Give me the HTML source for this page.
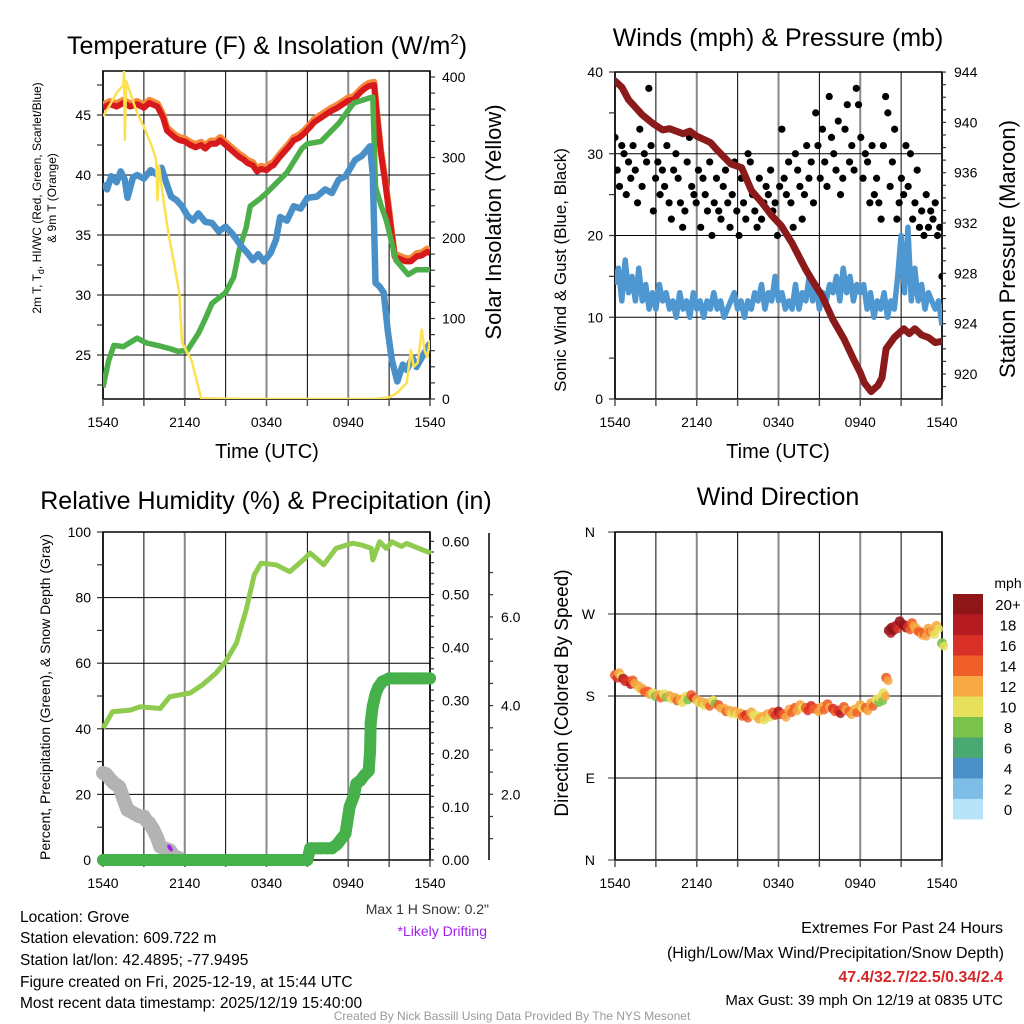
<!DOCTYPE html>
<html><head><meta charset="utf-8"><style>
html,body{margin:0;padding:0;background:#fff}
svg{display:block;font-family:"Liberation Sans",Arial,sans-serif}
</style></head><body>
<svg id="fig" width="1024" height="1024" viewBox="0 0 1024 1024" xmlns="http://www.w3.org/2000/svg">
<defs>
<clipPath id="c1"><rect x="103" y="71" width="327" height="328"/></clipPath>
<clipPath id="c2"><rect x="615" y="72" width="327" height="327"/></clipPath>
<clipPath id="c3"><rect x="96" y="526" width="340" height="342"/></clipPath>
<clipPath id="c4"><rect x="608" y="526" width="340" height="342"/></clipPath>
</defs>
<g id="g1"></g>
<g id="g2"></g>
<g id="g3"></g>
<g id="g4"></g>
<g font-size="25" text-anchor="middle" fill="#000">
<text x="267" y="54">Temperature (F) &amp; Insolation (W/m<tspan font-size="15" dy="-10">2</tspan><tspan dy="10">)</tspan></text>
<text x="778" y="46">Winds (mph) &amp; Pressure (mb)</text>
<text x="266" y="509">Relative Humidity (%) &amp; Precipitation (in)</text>
<text x="778" y="505">Wind Direction</text>
</g>
<g fill="#000">
<text x="267" y="458" font-size="20" text-anchor="middle">Time (UTC)</text>
<text x="778" y="458" font-size="20" text-anchor="middle">Time (UTC)</text>
<text transform="translate(41,198) rotate(-90)" font-size="12" text-anchor="middle">2m T, T<tspan font-size="9" dy="3">d</tspan><tspan dy="-3">, HI/WC (Red, Green, Scarlet/Blue)</tspan></text>
<text transform="translate(56,198) rotate(-90)" font-size="12" text-anchor="middle">&amp; 9m T (Orange)</text>
<text transform="translate(501,222) rotate(-90)" font-size="22" text-anchor="middle">Solar Insolation (Yellow)</text>
<text transform="translate(566,270) rotate(-90)" font-size="17" text-anchor="middle">Sonic Wind &amp; Gust (Blue, Black)</text>
<text transform="translate(1015,249) rotate(-90)" font-size="22" text-anchor="middle">Station Pressure (Maroon)</text>
<text transform="translate(50,697) rotate(-90)" font-size="14" text-anchor="middle">Percent, Precipitation (Green), &amp; Snow Depth (Gray)</text>
<text transform="translate(568,693) rotate(-90)" font-size="19" text-anchor="middle">Direction (Colored By Speed)</text>
</g>
<g font-size="15.5" fill="#000">
<text x="20" y="922">Location: Grove</text>
<text x="20" y="943">Station elevation: 609.722 m</text>
<text x="20" y="965">Station lat/lon: 42.4895; -77.9495</text>
<text x="20" y="987">Figure created on Fri, 2025-12-19, at 15:44 UTC</text>
<text x="20" y="1008">Most recent data timestamp: 2025/12/19 15:40:00</text>
</g>
<text x="489" y="914" font-size="14" text-anchor="end" fill="#333">Max 1 H Snow: 0.2"</text>
<text x="487" y="936" font-size="14" text-anchor="end" fill="#a020f0">*Likely Drifting</text>
<g text-anchor="end" fill="#000">
<text x="1003" y="933" font-size="16">Extremes For Past 24 Hours</text>
<text x="1004" y="958" font-size="16">(High/Low/Max Wind/Precipitation/Snow Depth)</text>
<text x="1003" y="982" font-size="16" font-weight="bold" fill="#d62728">47.4/32.7/22.5/0.34/2.4</text>
<text x="1003" y="1005" font-size="15">Max Gust: 39 mph On 12/19 at 0835 UTC</text>
</g>
<text x="512" y="1020" font-size="12" text-anchor="middle" fill="#999">Created By Nick Bassill Using Data Provided By The NYS Mesonet</text>
</svg>
<script>
// ===== data (time in hours since 1540 UTC) =====
const xTickLabels = ["1540","2140","0340","0940","1540"];
const tempT = [0,0.5,1,1.5,2,2.5,3,3.4,4,4.4,4.7,5,5.3,5.6,6,6.4,6.8,7.2,7.5,7.9,8.3,8.6,9,9.5,10,10.3,10.6,11,11.3,11.6,12,12.3,12.5,12.9,13.2,13.6,14,14.4,14.8,15.2,15.5,15.9,16.3,16.7,17.2,17.6,18,18.4,18.9,19.2,19.5,19.9,20.1,20.4,20.7,20.9,21.2,21.4,21.8,22.2,22.6,23,23.4,23.8,24];
const tempV = [45.6,45.9,45.7,46,45.7,45.9,45.6,46,45.7,44.8,43.7,43.4,43.1,42.9,42.8,42.5,42.3,42.5,42.2,42.6,42.6,42.9,42.5,42,41.5,41.3,41,40.8,40.3,40.5,40.4,40.7,40.8,41.4,41.8,42.3,42.9,43.1,43.5,44,44.4,44.7,45,45.3,45.6,45.9,46.2,46.3,46.9,47.2,47.4,47.5,45,41.8,39.5,37.7,35,33.2,33,32.8,32.8,33.2,33.3,33.6,33.5];
const dewT = [0,0.4,0.8,1.5,2.5,3.2,4,5,5.5,6.2,7,7.5,8,9,9.6,10,10.5,10.8,11.5,12,13.5,14.6,15,16,17.3,18.4,19.5,19.8,20,20.4,20.8,21.5,22.4,23,24];
const dewV = [22.3,24.5,25.8,25.7,26.4,26,25.8,25.5,25.3,25.4,26.8,28,29.3,30.2,31.5,33.8,35.6,37.4,38,38.5,40.2,42.2,42.6,42.8,44.3,46,46.4,46.5,39,37.5,36.2,32.9,31.7,32.1,32.1];
const wcT = [0,0.3,0.6,1,1.3,1.6,1.8,2.2,2.5,3,3.5,4,4.3,4.6,5,5.4,5.8,6.2,6.6,7,7.5,8,8.5,9,9.5,10.2,10.6,11,11.4,11.8,12.3,12.7,13,13.5,14,14.5,15,15.7,16.3,16.8,17.3,17.8,18.5,19,19.6,19.8,20,20.3,20.6,20.9,21.2,21.6,22,22.3,22.7,23,23.5,24];
const wcV = [39.3,38.8,39.9,39.4,40.3,39.6,38.1,39.8,40,39.7,40.4,40,40.6,39.5,38.2,37.9,37.4,36.6,36.2,36.8,36.1,36,35.3,35.7,35.1,34,33.5,32.9,33.4,32.8,33.5,34.6,36.5,36.2,37.4,37.2,38.1,38.2,38.8,38.5,39.6,39.9,41.25,41.6,42.4,40,31,30.7,30.2,27,24.6,22.8,24.2,23.75,24.8,24,25,26];
const solT = [0,0.5,1,1.5,1.55,1.6,1.7,2,2.5,3,3.6,3.9,4,4.1,4.5,4.8,5.2,5.6,5.8,6.5,7.2,10,15,20,21,21.6,22,22.3,22.6,22.8,23.1,23.4,23.6,23.8,24];
const solV = [351,365,380,390,408,322,395,380,355,338,313,297,247,290,240,206,170,132,70,48,1,0,0,0,2,8,15,20,61,40,45,86,60,52,73];

const windT = [];
const windV = [14,16,12,17,13,15,12,16,12,14,11,13,11,14,12,13,11,12,10,13,11,12,10,13,11,12,10,12,11,13,11,12,10,11,12,13,11,12,10,12,11,13,12,14,11,13,12,15,12,13,11,12,11,14,11,13,12,15,12,14,11,13,12,14,13,15,12,16,13,15,12,14,13,14,11,13,10,12,11,13,10,12,11,15,20,13,21,12,16,12,14,11,13,12,11,12,9];
const gustV = [32,28,26,31,30,25,29,27,31,28,24,33,26,30,29,38,31,23,27,29,25,28,26,31,24,22,28,30,27,24,21,23,29,32,26,25,24,28,21,27,25,23,29,20,24,27,23,22,26,28,24,21,25,29,23,20,27,24,22,30,29,25,23,21,27,22,24,26,25,28,23,24,20,26,33,27,25,29,24,21,30,28,26,22,25,31,27,29,24,35,31,27,33,29,26,37,32,30,28,34,25,27,33,36,29,31,28,38,36,32,27,30,29,24,31,25,27,24,22,31,37,35,26,29,33,22,24,27,25,31,26,30,22,24,28,21,23,20,25,21,23,22,24,20,21,15];
const presT = [0,0.5,1,2,2.8,3.5,4,5,5.5,6,7,7.5,8.5,9.3,10,10.8,11.5,12.2,13,14,14.5,15.2,16,16.8,17.5,18,18.3,18.8,19.3,19.6,19.9,20.5,21.2,21.6,22,22.5,23,23.5,24];
const presV = [943.3,942.8,941.8,940.6,939.9,939.4,939.5,939.1,939.3,938.9,938.4,937.8,936.7,936.4,934.6,933.6,932.6,931.8,930.4,928.3,927.4,926.2,924.3,922.8,921.2,920.1,919.3,918.6,919.1,919.7,922,922.9,923.6,923.2,923.6,923.1,922.9,922.5,922.6];

const rhT = [0,0.7,2,2.7,4.2,4.9,6.4,7.3,8.3,9,9.8,10.5,11.1,11.6,12.7,13.7,14.7,15.2,16.2,17.1,18.3,19,19.7,19.8,20.3,20.8,21.2,21.9,22.3,23.9,24];
const rhV = [40.2,45.2,45.7,46.7,46.2,49.8,50.9,53.4,57,60.5,66.2,76.2,86.9,90.5,90,87.9,91.5,93.6,90,95,96.6,96,95,91.5,97,95,97,95.6,96.5,93.8,94.5];
const precT = [0,2,4,6,8,10,12,14,15,15.2,15.6,16,16.4,16.8,17.2,17.5,17.8,18.1,18.4,18.6,18.9,19.2,19.5,19.6,19.65,19.7,19.8,20,20.2,20.5,21,22,23,24];
const precV = [0,0,0,0,0,0,0,0,0,0.022,0.022,0.022,0.022,0.022,0.03,0.04,0.05,0.1,0.12,0.144,0.15,0.16,0.168,0.206,0.258,0.27,0.29,0.312,0.325,0.336,0.342,0.342,0.342,0.342];
const snowT = [0,0.25,0.5,0.8,1.2,1.5,1.8,2.1,2.4,2.7,3,3.2,3.4,3.7,4,4.2,4.5,4.9,5.2,5.6];
const snowV = [2.48,2.45,2.35,2.25,2.17,1.9,1.65,1.6,1.55,1.5,1.5,1.4,1.35,1.2,1.0,0.82,0.78,0.74,0.6,0.56];

const dirT = [0,0.3,0.6,1,1.3,1.7,2,2.4,2.8,3.2,3.6,4,4.4,4.8,5.2,5.6,6,6.4,6.8,7.2,7.6,8,8.4,8.8,9.2,9.6,10,10.4,10.8,11.2,11.6,12,12.4,12.8,13.2,13.6,14,14.4,14.8,15.2,15.6,16,16.4,16.8,17.2,17.6,18,18.4,18.8,19.2,19.5,19.7,19.9,20.1,20.3,20.6,20.9,21.2,21.5,21.8,22.1,22.4,22.7,23,23.3,23.6,24];
const dirV = [203,205,199,196,197,191,188,185,183,181,182,180,178,176,179,181,176,173,172,175,170,166,164,163,161,159,162,158,157,160,162,163,160,165,167,170,167,169,166,168,171,166,164,168,163,165,170,167,172,176,178,183,200,252,255,257,262,258,256,260,254,250,249,254,251,257,238];
const dirS = [14,12,18,16,14,13,12,15,11,12,10,12,13,12,11,14,13,12,12,11,14,13,12,13,12,16,12,11,12,13,14,18,15,13,14,12,15,16,14,12,15,17,16,14,15,13,12,14,13,11,10,11,15,20,21,18,20,22,16,14,12,15,14,12,13,12,8];
const cbLabels = ["20+","18","16","14","12","10","8","6","4","2","0"];
const cbColors = ["#8e1518","#b51b21","#d93128","#f05f2a","#f6a843","#e7e05a","#7bc24b","#4aa873","#4a8fc5","#7dbde6","#b6e3f8"];
const dirLabels = ["N","E","S","W","N"];

for (let i=0;i<windV.length;i++) windT.push(i*0.25);
const gustT = gustV.map((_,i)=>i*24/(gustV.length-1));

// ===== helpers =====
const NS="http://www.w3.org/2000/svg";
function mk(parent,tag,attrs){const e=document.createElementNS(NS,tag);for(const k in attrs)e.setAttribute(k,attrs[k]);parent.appendChild(e);return e;}
function txt(parent,x,y,s,size,anchor){const e=mk(parent,'text',{x:x,y:y,'font-size':size,'text-anchor':anchor||'middle',fill:'#000'});e.textContent=s;return e;}
function pathD(ts,vs,xf,yf){return ts.map((t,i)=>(i?'L':'M')+xf(t).toFixed(1)+' '+yf(vs[i]).toFixed(1)).join(' ');}
function grid(g,x0,x1,y0,y1,hy){
  for(let k=0;k<=8;k++){const x=x0+k*(x1-x0)/8;const l=mk(g,'line',{x1:x,x2:x,y1:y0,y2:y1,stroke:k%2?'#000':'#888','stroke-width':k%2?1:2});
  
  }
  hy.forEach(y=>{const l=mk(g,'line',{x1:x0,x2:x1,y1:y,y2:y,stroke:'#000','stroke-width':1});
  
  });
  const b=mk(g,'rect',{x:x0,y:y0,width:x1-x0,height:y1-y0,fill:'none',stroke:'#000','stroke-width':1.5});
  
  
  for(let k=0;k<=8;k++){const x=x0+k*(x1-x0)/8;mk(g,'line',{x1:x,x2:x,y1:y1,y2:y1+7,stroke:'#555','stroke-width':1.5});}
  xTickLabels.forEach((s,i)=>{const t=txt(g,x0+i*(x1-x0)/4,y1+28,s,14);
  
  });
}
function yticks(g,x,vals,yf,side,labelFn,len){
  vals.forEach(v=>{const y=yf(v);mk(g,'line',{x1:x,x2:x+side*(len||7),y1:y,y2:y,stroke:'#333','stroke-width':1.2});
   if(labelFn){const s=labelFn(v);if(s!==null){const t=txt(g,x+side*12,y+5,s,14,side<0?'end':'start');
   
   }}});
}
function range(a,b,s){const r=[];for(let v=a;v<=b+1e-9;v+=s)r.push(+v.toFixed(3));return r;}

// ===== Panel 1 =====
(function(){
const g=document.getElementById('g1');
const X0=103,X1=430,Y0=71,Y1=399;
const xs=t=>X0+t*(X1-X0)/24, yT=v=>355-(v-25)*12, yS=w=>399-w*0.805;
grid(g,X0,X1,Y0,Y1,[25,30,35,40,45].map(yT));
yticks(g,X0,range(22.5,47.5,2.5),yT,-1,v=>v%5===0?String(v):null,6);
yticks(g,X1,range(0,400,20),yS,1,v=>v%100===0?String(v):null,5);
const pg=mk(g,'g',{'clip-path':'url(#c1)',fill:'none','stroke-linejoin':'round'});
const o=mk(pg,'path',{d:pathD(tempT,tempV.map(v=>v+0.25),xs,yT),stroke:'#f58a3c','stroke-width':6.5});


const r=mk(pg,'path',{d:pathD(tempT,tempV,xs,yT),stroke:'#d7191c','stroke-width':6});


const gr=mk(pg,'path',{d:pathD(dewT,dewV,xs,yT),stroke:'#4daf4a','stroke-width':5.5});


const b=mk(pg,'path',{d:pathD(wcT,wcV,xs,yT),stroke:'#4a90c8','stroke-width':6.5});


const y=mk(pg,'path',{d:pathD(solT,solV,xs,yS),stroke:'#fde150','stroke-width':2.5});


})();

// ===== Panel 2 =====
(function(){
const g=document.getElementById('g2');
const X0=615,X1=942,Y0=72,Y1=399;
const xs=t=>X0+t*(X1-X0)/24, yW=m=>399-m*8.175, yP=p=>374-(p-920)*12.58;
grid(g,X0,X1,Y0,Y1,[10,20,30].map(yW));
yticks(g,X0,range(0,40,5),yW,-1,v=>v%10===0?String(v):null,6);
yticks(g,X1,range(919,944,1),yP,1,v=>(v-920)%4===0?String(v):null,4);
const pg=mk(g,'g',{'clip-path':'url(#c2)'});
const b=mk(pg,'path',{d:pathD(windT,windV,xs,yW),stroke:'#4f97d1','stroke-width':5.5,fill:'none','stroke-linejoin':'round'});


gustT.forEach((t,i)=>{const c=mk(pg,'circle',{cx:xs(t),cy:yW(gustV[i]),r:3.6,fill:'#000'});

});
const p=mk(pg,'path',{d:pathD(presT,presV,xs,yP),stroke:'#8b1a1a','stroke-width':7,fill:'none','stroke-linejoin':'round','stroke-linecap':'round'});


})();

// ===== Panel 3 =====
(function(){
const g=document.getElementById('g3');
const X0=103,X1=430,Y0=532,Y1=860;
const xs=t=>X0+t*(X1-X0)/24, yR=v=>860-v*3.28, yPr=p=>860-p*531, ySn=s=>883-s*44.35;
grid(g,X0,X1,Y0,Y1,[20,40,60,80].map(yR));
yticks(g,X0,range(0,100,10),yR,-1,v=>v%20===0?String(v):null,6);
yticks(g,X1,range(0,0.6,0.02),yPr,1,v=>Math.abs(v*10-Math.round(v*10))<1e-6?v.toFixed(2):null,4);
const ax=mk(g,'line',{x1:489,x2:489,y1:533,y2:860,stroke:'#000','stroke-width':1.5});


yticks(g,489,range(1,7,0.5).filter(v=>ySn(v)>=533),ySn,1,v=>v%2===0?v.toFixed(1):null,4);
const pg=mk(g,'g',{'clip-path':'url(#c3)'});
const sl=mk(pg,'path',{d:pathD(snowT,snowV,xs,ySn),stroke:'#b3b3b3','stroke-width':14,fill:'none','stroke-linecap':'round','stroke-linejoin':'round'});


const rh=mk(pg,'path',{d:pathD(rhT,rhV,xs,yR),stroke:'#8fcb4f','stroke-width':5,fill:'none','stroke-linejoin':'round'});


const pl=mk(pg,'path',{d:pathD(precT,precV,xs,yPr),stroke:'#46b04a','stroke-width':12,fill:'none','stroke-linecap':'round','stroke-linejoin':'round'});


precT.forEach((t,i)=>{const c=mk(pg,'circle',{cx:xs(t),cy:yPr(precV[i]),r:6,fill:'#46b04a'});

});
const d=mk(pg,'ellipse',{cx:170,cy:848,rx:2,ry:4,fill:'#a020f0',transform:'rotate(-35 170 848)'});


})();

// ===== Panel 4 =====
(function(){
const g=document.getElementById('g4');
const X0=615,X1=942,Y0=532,Y1=860;
const xs=t=>X0+t*(X1-X0)/24, yD=d=>860-d*0.911;
grid(g,X0,X1,Y0,Y1,[90,180,270].map(yD));
dirLabels.forEach((s,i)=>{const y=yD(i*90);mk(g,'line',{x1:X0-7,x2:X0,y1:y,y2:y,stroke:'#333'});
const t=txt(g,X0-20,y+5,s,14,'end');

});
const pg=mk(g,'g',{'clip-path':'url(#c4)'});
const col=s=>cbColors[10-Math.min(10,Math.floor(s/2))];
dirT.forEach((t,i)=>{const c=mk(pg,'circle',{cx:xs(t),cy:yD(dirV[i]),r:5,fill:col(dirS[i]),opacity:0.9});


const c2=mk(pg,'circle',{cx:xs(t)+2,cy:yD(dirV[i])+3,r:4.5,fill:col(dirS[i]+(i%3?-2:2)),opacity:0.85});

});
const cb=mk(g,'g',{});


txt(cb,1008,588,'mph',14);
cbColors.forEach((c,i)=>{const y=594+i*20.5;
const r=mk(cb,'rect',{x:953,y:y,width:30,height:20.5,fill:c});


txt(cb,1008,y+16,cbLabels[i],15);});
})();
</script>
</body></html>
